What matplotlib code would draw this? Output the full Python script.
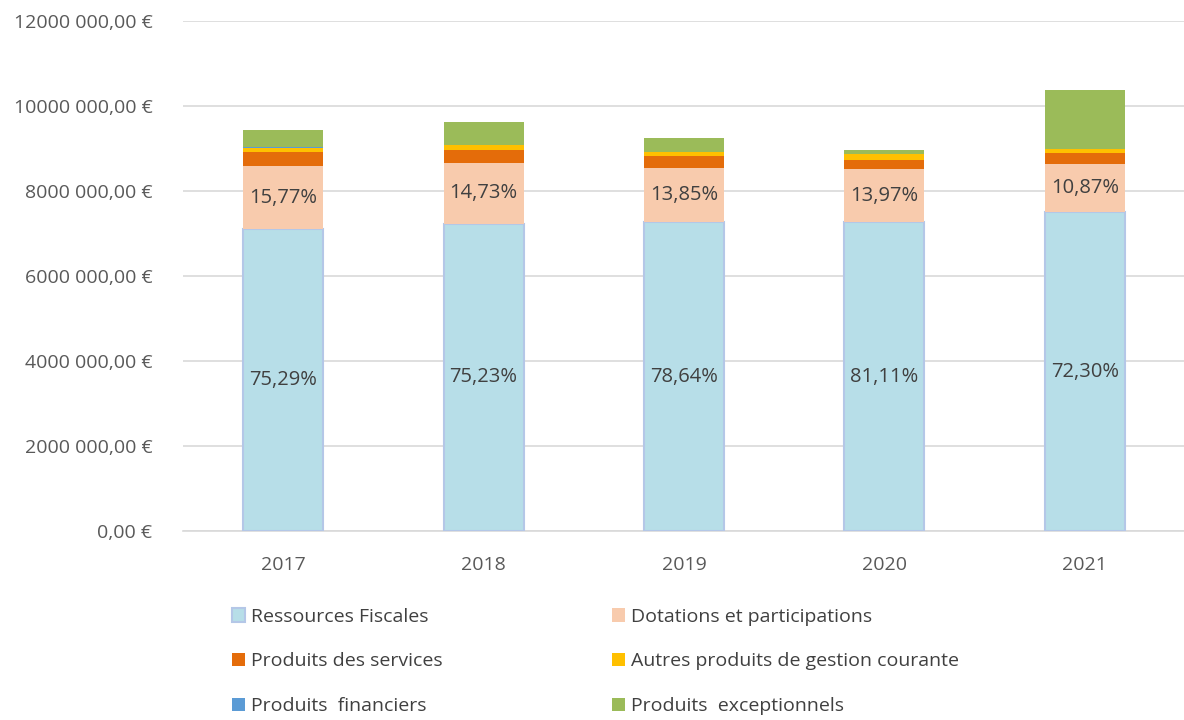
import numpy as np
import matplotlib.pyplot as plt

plt.rcParams['font.family'] = ['Open Sans', 'DejaVu Sans']

# Data input (estimated from the chart)
annees = ["2017", "2018", "2019", "2020", "2021"]
ressources_fiscales = [7100000, 7235000, 7267000, 7267000, 7500000]
dotations = [1487000, 1417000, 1280000, 1252000, 1128000]
produits_services = [330000, 310000, 270000, 220000, 270000]
autres_produits = [90000, 110000, 100000, 120000, 100000]
produits_financiers = [35000, 0, 0, 0, 0]
produits_exceptionnels = [390000, 540000, 320000, 95000, 1370000]

etiquettes_fiscales = ["75,29%", "75,23%", "78,64%", "81,11%", "72,30%"]
etiquettes_dotations = ["15,77%", "14,73%", "13,85%", "13,97%", "10,87%"]

series = [
    ("Ressources Fiscales", ressources_fiscales, "#B7DEE8"),
    ("Dotations et participations", dotations, "#F8CBAD"),
    ("Produits des services", produits_services, "#E46C0A"),
    ("Autres produits de gestion courante", autres_produits, "#FFC000"),
    ("Produits  financiers", produits_financiers, "#5B9BD5"),
    ("Produits  exceptionnels", produits_exceptionnels, "#9BBB59"),
]

fig = plt.figure(figsize=(11.84, 7.2), dpi=100)
ax = fig.add_axes([183 / 1184, 1 - 531 / 720, 1002 / 1184, 510 / 720])

x = np.arange(len(annees))
bottom = np.zeros(len(annees))
handles = {}
for nom, vals, col in series:
    vals = np.array(vals, dtype=float)
    if nom == "Ressources Fiscales":
        b = ax.bar(x, vals, 0.4, bottom=bottom, color=col, edgecolor="#B4C7E7",
                   linewidth=1.5, zorder=3)
        etiquettes = etiquettes_fiscales
    else:
        b = ax.bar(x, vals, 0.4, bottom=bottom, color=col, zorder=3)
        etiquettes = etiquettes_dotations if nom == "Dotations et participations" else None
    handles[nom] = b
    if etiquettes:
        for i, t in enumerate(etiquettes):
            ax.text(x[i], bottom[i] + vals[i] / 2, t, ha="center", va="center",
                    fontsize=14.5, color="#404040", zorder=4)
    bottom += vals

ax.set_xlim(-0.5, len(annees) - 0.5)
ax.set_ylim(0, 12000000)
yticks = np.arange(0, 12000001, 2000000)
ax.set_yticks(yticks)
ax.set_yticklabels(["0,00 €" if v == 0 else f"{v // 1000} {v % 1000:03d},00 €" for v in yticks])
ax.set_xticks(x)
ax.set_xticklabels(annees)
ax.tick_params(axis="both", length=0, labelsize=14, colors="#595959")
ax.tick_params(axis="y", pad=22)
ax.tick_params(axis="x", pad=18)
ax.grid(axis="y", color="#D9D9D9", linewidth=1.2, zorder=0)
for s in ["top", "right", "left"]:
    ax.spines[s].set_visible(False)
ax.spines["bottom"].set_color("#D9D9D9")
ax.spines["bottom"].set_linewidth(1.2)

ordre = ["Ressources Fiscales", "Produits des services", "Produits  financiers",
         "Dotations et participations", "Autres produits de gestion courante",
         "Produits  exceptionnels"]
fig.legend([handles[n] for n in ordre], ordre, ncol=2, loc="upper left",
           bbox_to_anchor=(214 / 1184, 1 - 590 / 720), frameon=False,
           fontsize=14, handlelength=0.7, handleheight=0.7, handletextpad=0.3,
           labelspacing=1.38, columnspacing=8.7, labelcolor="#404040")

fig.savefig("out.png", dpi=100)
